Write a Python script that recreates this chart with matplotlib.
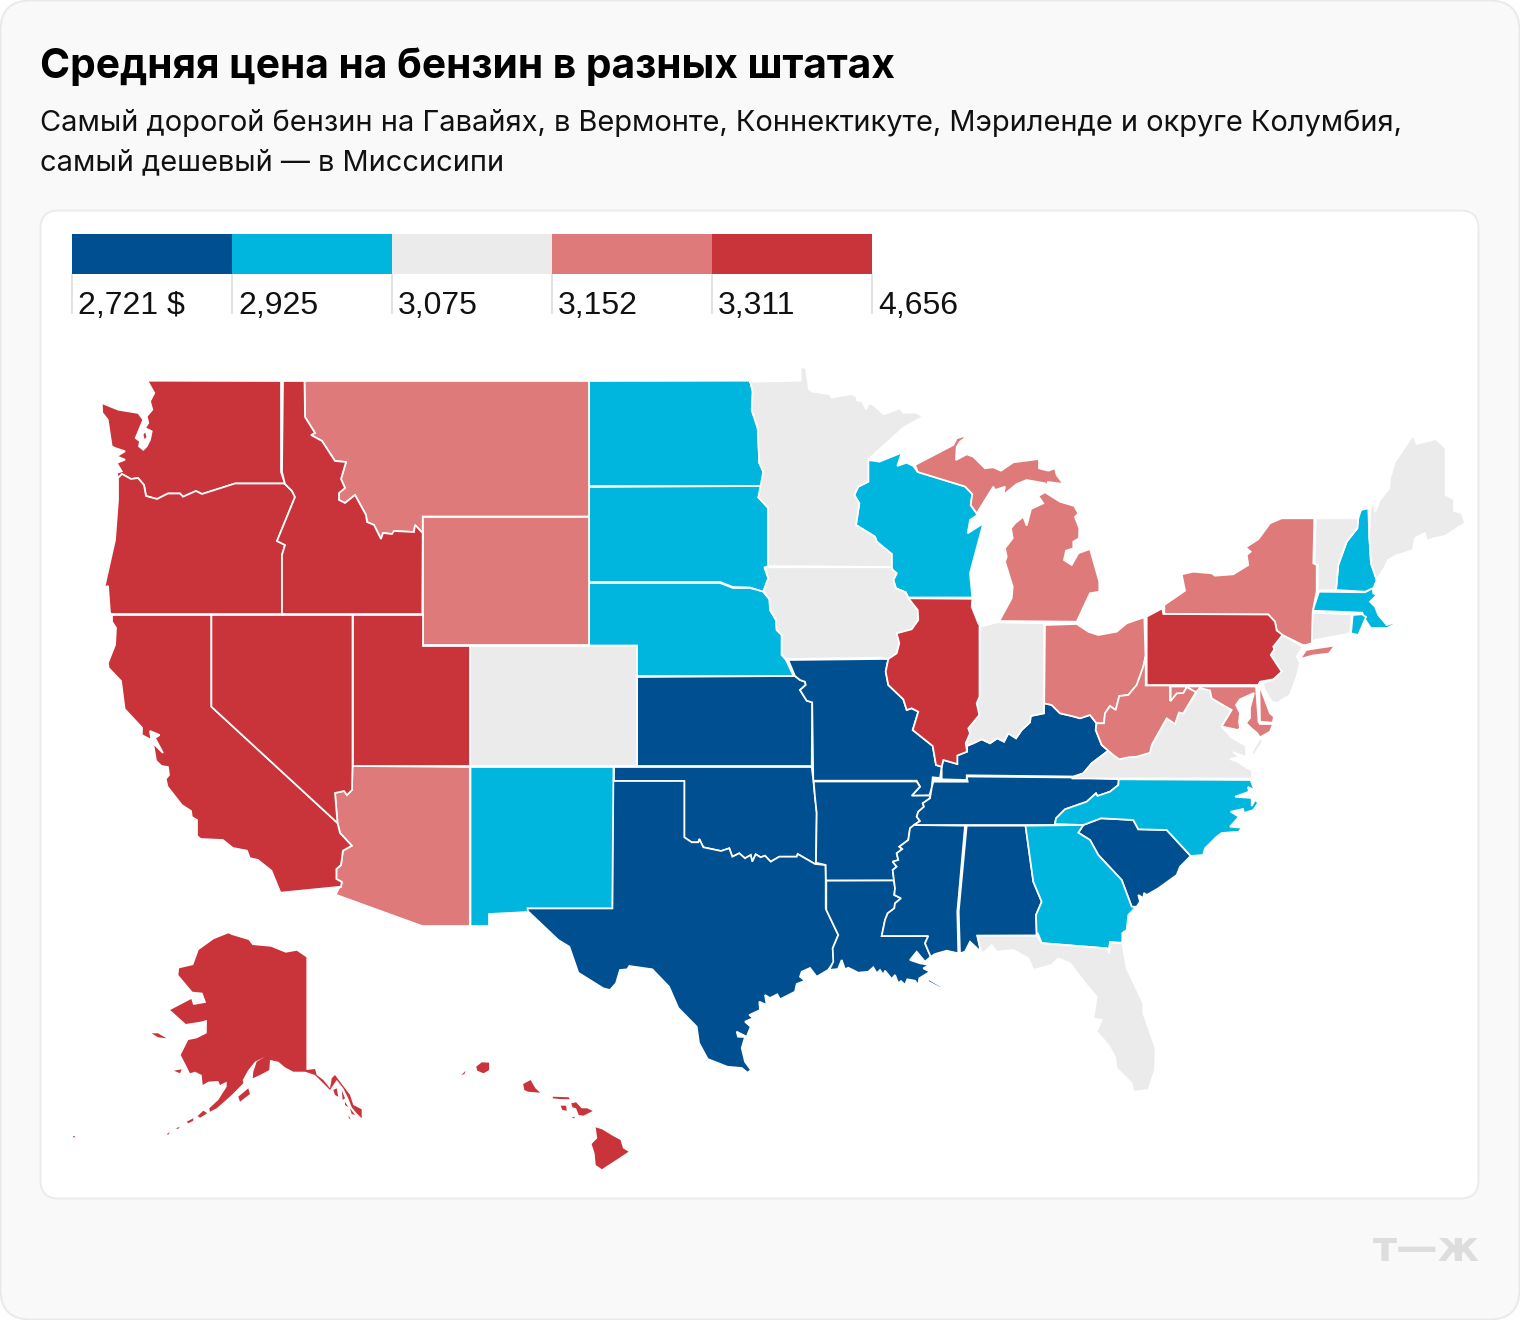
import matplotlib
matplotlib.use("Agg")
import matplotlib.pyplot as plt
from matplotlib.patches import Polygon, Rectangle, FancyBboxPatch

plt.rcParams['font.family'] = ['Inter', 'Noto Sans', 'DejaVu Sans']

TITLE = "Средняя цена на бензин в разных штатах"
SUBTITLE = ["Самый дорогой бензин на Гавайях, в Вермонте, Коннектикуте, Мэриленде и округе Колумбия,",
            "самый дешевый — в Миссисипи"]
LOGO = "т—ж"

# legend: six break labels, five colour classes
BREAK_LABELS = ["2,721 $", "2,925", "3,075", "3,152", "3,311", "4,656"]
CLASS_COLORS = ["#004F91", "#00B6DE", "#EBEBEB", "#DE7A7A", "#C9343A"]

# price class (index into CLASS_COLORS) of each state
CLASS_0 = ["KS", "MO", "OK", "TX", "AR", "LA", "MS", "AL", "TN", "KY", "SC"]
CLASS_1 = ["ND", "SD", "NE", "NM", "WI", "GA", "NC", "NH", "MA", "RI"]
CLASS_2 = ["MN", "IA", "CO", "IN", "VA", "FL", "ME", "VT", "CT", "NJ"]
CLASS_3 = ["MT", "WY", "AZ", "MI", "OH", "WV", "NY", "MD", "DE"]
CLASS_4 = ["WA", "OR", "CA", "NV", "ID", "UT", "IL", "PA", "AK", "HI"]
CLASSES = [CLASS_0, CLASS_1, CLASS_2, CLASS_3, CLASS_4]

# ---- shared borders (map geometry, in the map's own projected units) ----
MT_ID = [(304.5,381),(305,417),(315,433),(311,435),(322,441),(335,461),(346,462),(341,479),(345,488),(339,493),
         (339,500),(345,503),(355,495),(366,515),(367,522),(374,525),(381,539),(383,533),(392,534),(394,531),
         (414,532),(415,525),(422.7,533)]
WA_OR = [(285,483.5),(235,483.5),(202,494),(196,491),(183,496.7),(180,493.5),(168,493.5),(157,499),(146,496),
         (144,485),(138,478),(131,479),(122,474),(118,478)]
OR_ID = [(285,484),(292,491),(295,497),(277,541),(285,545),(282,555),(282,614)]
CA_AZ = [(337.5,823),(340,833),(351.8,845.7),(342.9,850.7),(341,865),(336.4,869),(336.4,879),(341.8,882),(341,886.7)]
NV_AZ = [(352.5,766),(352,790),(347,795),(344,791),(335,793),(337.5,823)]
TX_OK = [(684.3,781),(684.3,837.3),(691.7,842.3),(698.3,842.3),(699.3,839),(703.3,847.3),(721,851),(729.3,848.3),
         (732.3,856.7),(739.3,853.3),(745,858.3),(750.7,855),(752.3,861.7),(755.7,854.3),(760.7,857.3),(765,855.7),
         (770.7,861.7),(779.3,856.7),(796.7,856.7),(797.7,854),(815,864)]
TX_AR = [(815,864),(825.5,865),(825.7,880)]
TX_LA = [(825.7,880),(825.7,908.3),(838.3,935),(832.7,948.3),(834,961.7),(828,970)]
OK_AR = [(813.3,780.5),(815,797),(816.7,813),(816,862.7),(815,864)]
KS_MO = [(795,676),(800,680),(805,681.7),(805.7,685),(800,690),(806.7,700.7),(812.2,702.3)]
NE_IA = [(763.3,591.7),(769.5,599.3),(770,610),(776,620),(776.7,630),(781.7,635),(781.7,655),(786.7,659)]
SD_MN_IA = [(765,486),(758.3,497.3),(768,507.7),(768,566),(764.5,568),(768.3,578.3),(763.3,591.7)]
ND_MN = [(750,380.7),(752.7,391.7),(751.7,410),(757.7,428),(759.3,463),(763.3,471.7),(765,486)]
MN_WI = [(868.3,459.5),(868.3,481.7),(858.3,486.7),(854.3,495),(859.3,503.3),(856,525),(875,536.7),(876.7,541.7),
         (891.7,554),(891.7,567)]
IA_WI = [(891.7,567),(892.7,570),(896.7,573.3),(893.3,580),(896,588.3),(905.7,592.3),(908.3,598)]
IA_IL = [(908.3,598),(917.7,610),(918.3,620),(911.7,629.3),(896.7,633.3),(899.3,643.3),(896.7,653.3),(888.3,659)]
IL_MO = [(888.3,659),(885.7,671.7),(888.3,685),(903.3,699.3),(906.7,710),(911.7,708.3),(918.3,711.7),(912.7,730),
         (932.7,746),(936,765),(941.7,766.7)]
IL_KY = [(941.7,766.7),(943.3,760),(957.3,764),(957.3,755.5),(967,751.7)]
IL_IN = [(967,751.7),(965.7,743.3),(970,733.3),(968.3,728.3),(979.3,715),(976.7,703.3),(979.5,696.7),(979.5,640),(979.5,625)]
IN_KY = [(967,751.7),(966.7,746),(973.3,743.3),(981.7,739.3),(990,743.3),(997.3,738.3),(1004,741.7),(1008.3,733.3),
         (1016,738.3),(1021.7,730),(1030,722.3),(1030.7,716),(1044,713.3),(1044.2,703.3)]
OH_KY = [(1044.2,703.3),(1051.7,705),(1060,713.3),(1071.7,716),(1080,718.3),(1090,715),(1096.5,723.3)]
OH_WV = [(1096.5,723.3),(1104,723.3),(1105,713.3),(1110,706),(1115.7,710),(1119.3,696),(1128.3,695),(1136.7,685),
         (1143.3,666.7),(1145.5,656.7)]
KY_WV = [(1096.5,723.3),(1095.7,730),(1101.7,745),(1108.3,750.7)]
KY_VA = [(1073.3,777),(1083.3,773.3),(1091.7,763.3),(1108.3,750.7)]
WV_VA = [(1108.3,750.7),(1113.3,755),(1119.3,759.3),(1128.3,757.3),(1136.7,756.7),(1150,752.7),(1151.7,745),
         (1166.7,718.3),(1175,724),(1179,712.5),(1183.3,713.3),(1196,693.3)]
MD_VA = [(1196,692),(1200,688),(1210,690.5),(1211.7,698.3),(1220,703.3),(1231.7,710),(1221.7,726.5)]
MO_AR_E = [(916.7,780.7),(920,786.7),(911.7,795.7),(929.3,795.5)]
TN_AR = [(931.7,788),(930,798.3),(922.7,803.3),(924,806.7),(918.3,811.7),(916.7,816.7),(920,821),(914,825)]
MS_AR = [(914,825),(910,828.3),(908.3,840),(899.3,846.7),(902.3,849),(896.7,853.3),(898.3,860),(892.7,861.7),
         (896.7,866.7),(892.7,870),(894,880.5)]
MS_LA = [(894,880.5),(895,888.3),(894.3,895),(901,898.3),(895,903.3),(894.3,908.3),(887.7,913.3),(885,920),(883.3,928.3),
         (881.7,936),(928.3,936),(925,943.3),(930.7,956.7)]
TN_NC = [(1055,824),(1056,818.3),(1065,809.3),(1086.7,801.7),(1096,793.3),(1097.5,796),(1110,791.7),(1118.3,785),(1118.8,779.3)]
GA_AL = [(1025.5,825.7),(1033.3,881.7),(1041.7,901.7),(1036,915),(1036.7,935.5)]
GA_SC = [(1083.3,825),(1078.3,832.7),(1090,840),(1098.3,855),(1121.7,880),(1131.7,906.7)]
NC_SC = [(1083.3,825),(1101,818.3),(1133.3,820),(1138.3,829.3),(1166.7,830),(1190.7,856)]
WI_MI = [(917.7,472),(965,486.5),(972.3,494),(970.7,505),(976.7,513.5)]
NY_PA = [(1164.3,614),(1268.3,614.5),(1275,621.7),(1276.7,630.5),(1282.5,635)]
NY_VT = [(1314.3,518.3),(1313.3,563.3),(1316.7,565),(1316.7,591)]
NY_MA_CT = [(1316.7,591),(1312.7,611.5),(1311.7,643.3)]
VT_NH = [(1358.3,518.3),(1357.3,528.3),(1346.7,541.7),(1338.3,565),(1336,590)]
NH_ME = [(1368.3,508.3),(1369.3,536.7),(1371,563.3),(1376.7,580)]
PA_NJ = [(1282.5,635),(1273.3,646.7),(1274.3,649.3),(1270.7,655),(1281.7,671.7),(1273.3,679.3)]

# ---- state outlines ----
SHAPES = {
"WA": [[(147.3,380.7),(281,381),(281,472),*WA_OR,(116.7,473),(121.7,471.3),(116.7,463),(125,459.7),(116.7,456.3),(125,451.3),
        (115,448),(111.7,446.3),(107.7,419.7),(102.3,413),(101.7,403),(118.3,409.7),(138.3,413),(143.3,419.7),(135.7,438),(140,441.3),
        (139,446.3),(143.3,449.7),(146.7,446.3),(150,439.7),(151.7,431.3),(145,428),(148.3,423),(146.7,416.3),(152.3,409.7),
        (150,401.3),(154.3,393)],
       [(142.5,434.5),(145.5,430.5),(147.5,437.5),(144,440.5)]],
"OR": [[(118,480),*WA_OR[::-1],*OR_ID,(111.5,614),(110,613),(108,586),(104.3,587.7),(115,540),(118,500)]],
"ID": [[(283,381),*MT_ID,(422.3,614),*OR_ID[::-1],(282,472)]],
"MT": [[(304.5,381),(589,381),(589,516.5),(422.7,516.5),*MT_ID[::-1]]],
"WY": [[(423,517),(589,517),(589,645),(423,645)]],
"ND": [[(589,381),*ND_MN,(589,486)]],
"SD": [[(589,487),*SD_MN_IA,(750,587.5),(733,587),(720,582),(589,582)]],
"NE": [[(589,583),(720,583),(733,588),(750,588),*NE_IA[:-1],(786,660),(793.5,676),(637,676),(637,645.5),(589,645.5)]],
"CA": [[(112,615),(211.4,615),(211.4,706.7),*CA_AZ,(280.4,892.7),(271.4,870.7),(257.9,860),(249.6,858),(247,850.7),
        (232.9,848),(222.9,840),(200.7,839),(197,836),(197,820),(191.8,817),(191,811),(181.8,805),(167.5,786.7),
        (165.7,779),(169,775),(167.9,767),(161.4,766),(156,760.7),(153,743),(163,753),(155,738),(159.6,735),(150,731),
        (151.4,740),(141.8,735),(142,727.7),(124.6,709),(121,681),(108.6,668),(107.9,663),(115,645),(116,628),(112,621.7)],
       [(206,853),(210,853),(209,854.5)]],
"NV": [[(211.4,615),(352.5,615),*NV_AZ,(211.4,706.7)]],
"UT": [[(352.5,615),(422.5,615),(422.5,646),(469.8,646),(469.8,766),(352.5,766)]],
"AZ": [[(469.8,767),(469.8,926),(422,926),(335.7,894.7),(339,888),*CA_AZ[::-1],*NV_AZ[::-1]]],
"CO": [[(470,646),(636.8,646),(636.8,766),(470,766)]],
"NM": [[(470.5,767),(613.5,767),(612.3,908.3),(527.5,908.3),(528,912),(489,914),(489,926),(470.5,926)]],
"KS": [[(637,677),*KS_MO,(811.7,766),(637,766)]],
"OK": [[(614,767),(811.7,767),*OK_AR,*TX_OK[::-1],(614,781)]],
"TX": [[(612.7,781),*TX_OK,*TX_AR[1:],*TX_LA[1:],(816.7,976.7),(810,968),(801.7,971.7),(800,976.7),(805,980.7),(796.7,984),
        (795,991.7),(780,999.3),(777.3,994.3),(770,998),(765,995),(766.7,1005),(759.3,1001.7),(760,1010),(749.3,1015),
        (753.3,1018),(745,1021.7),(750.7,1026.7),(746.7,1036.7),(736.7,1031.7),(738,1036.7),(745,1037),(741.7,1048),
        (745,1061.7),(751,1070),(747.7,1072.7),(741.7,1068),(727.3,1066.7),(707.7,1059),(699,1043),(696.7,1026.7),
        (678.3,1008),(669,986.7),(652.3,969.3),(629.3,966),(627.3,969.3),(620,970),(616,983.3),(610,990),(603.3,988.3),
        (578.3,972.7),(569.3,946.7),(558.3,940),(526.7,910),(527.3,908.3),(612.3,908.3)]],
"MO": [[(788.3,660),(880,659),(888.3,659),*IL_MO[1:],(940,778),(932.7,777.3),(931.7,788),(929.3,795.5),(911.7,795.7),
        (920,786.7),(916.7,780.7),(813.3,780.7),(812.2,702.3),*KS_MO[::-1][1:]]],
"AR": [[(813.7,781.5),(916.7,781.5),*MO_AR_E[1:],*TN_AR[1:],*MS_AR[1:],(826,880.5),(825.7,865),(816,862.7),(816.7,813),(815,797)]],
"LA": [[(826.3,880.7),*MS_LA,(925,961.7),(916.7,951.7),(910,960),(920,963.3),(929.3,965),(923.3,968.3),(930,971.7),(919.3,978.3),
        (918.3,985),(915,980.7),(907.3,979.3),(905,985),(901,981),(898.3,983.3),(895,975),(891.7,979),(885,970.7),(883.3,975),
        (880,970),(876.7,973.3),(873.3,967.3),(868.3,971.7),(858.3,972.7),(848.3,967.7),(845,969.3),(841.7,960),(838,969),
        (829.3,970),(833.3,961.7),(832.7,948.3),(838.3,935),(826.3,910)],
       [(927.3,978.3),(941.7,986.7),(940.7,988.3),(928.3,981.7)]],
"MS": [[(914,825),(965,825.7),(957.3,911.7),(958.3,953.3),(946.7,950.7),(935,954),*MS_LA[::-1],*MS_AR[::-1][1:]]],
"AL": [[(966.7,825.7),*GA_AL,(977.3,935.7),(980.7,951.7),(970,941.7),(965,951.7),(960,953.3),(958.7,911.7)]],
"GA": [[*GA_AL,(1037.7,933),(1041.7,943),(1106.7,948.3),(1108.3,953),(1110,942),(1122.3,942.7),(1122.3,933),(1126.7,930),
        (1128.3,915),(1135.7,907.3),*GA_SC[::-1]]],
"SC": [[*GA_SC,(1136.7,906.7),(1140,901.7),(1138.3,895),(1143.3,898),(1144,893),(1146.7,895),(1158.3,888.3),(1176.7,875),
        (1180,866.7),*NC_SC[::-1]]],
"NC": [[*TN_NC,(1250.7,780),(1254.3,790),(1248,787),(1249,791.7),(1235,796.7),(1251.7,798),(1251.7,806),(1255,800),
        (1258.3,802.7),(1253.3,810),(1244,813),(1243,809),(1230.7,811.7),(1239,816.7),(1230,826.7),(1241.7,827.7),
        (1239,831.7),(1221.7,833),(1216.7,836.7),(1205,848.3),(1203,855),*NC_SC[::-1]]],
"TN": [[(914,825),*TN_AR[::-1][1:],(933.3,781.7),(967.7,781.7),(966.7,776.5),(1073,777.5),(1118.8,779.3),*TN_NC[::-1][1:],(1055,825)]],
"KY": [[(941.7,779.3),(966.7,780),(966.7,775.3),(1073.3,776.5),*KY_VA[1:],*KY_WV[::-1][1:],*OH_KY[::-1][1:],*IN_KY[::-1][1:],*IL_KY[::-1][1:],(941.7,779.3)]],
"IL": [[(908.3,598.3),(972.3,598.8),(971.7,606.7),(978.3,623.3),*IL_IN[::-1],*IL_KY[::-1][1:],*IL_MO[::-1][1:],*IA_IL[::-1][1:]]],
"IN": [[(980.7,626.7),(996.7,622.3),(1044.2,623.3),*IN_KY[::-1],*IL_IN[:-1]]],
"OH": [[(1045,625),(1076.7,624),(1088.3,631.7),(1098.3,635),(1116.7,631.7),(1126.7,623.3),(1144.3,617.3),(1145.5,656.7),
        *OH_WV[::-1][1:],*OH_KY[::-1]]],
"WV": [[(1145.7,660),(1145.7,685.5),(1170,685.5),(1170,701),(1176.7,693.3),(1183.3,692.7),(1186.7,687),(1196,692),*WV_VA[::-1][1:],
        *KY_WV[::-1][1:],*OH_WV[1:]]],
"VA": [[(1071.7,778.5),*KY_VA,*WV_VA[1:],*MD_VA,(1231,737),(1246,746),(1246,757),(1233,752),(1240,757),(1230,759),(1238,762),
        (1247,768),(1252,770),(1252,778.5)],
       [(1253,757),(1264,739.5),(1259,739.5),(1252,752)]],
"MD": [[(1170.7,686.5),(1256,686.5),(1258.5,721.7),(1260,724),(1273,724),(1270,731.7),(1260,737.3),(1257,733),(1251,728),
        (1246,723),(1250,718),(1250,708),(1254,693),(1240,699.3),(1236,705),(1240,713),(1239,722),(1240,728),(1238,730),
        (1221.7,726.5),*MD_VA[::-1][1:],(1186.7,687),(1183.3,693),(1176.7,693.3),(1170.7,701)]],
"DE": [[(1259.3,686),(1261.7,684),(1260.5,688),(1265,700),(1270,713.3),(1274,716.7),(1272.7,722.7),(1260,721.7)]],
"PA": [[(1146.7,616.7),(1162.3,608.3),(1163.3,614),*NY_PA[1:],*PA_NJ[1:],(1260,681.7),(1258.3,685),(1146.7,685)]],
"NJ": [[*PA_NJ,(1263,683),(1264,688.3),(1266.7,693.3),(1271.7,701.7),(1278,703),(1281.7,700),(1290,695),(1296.7,676.7),
        (1300,663),(1296.7,656.7),(1303,646.7)]],
"NY": [[(1164.3,614),(1164.3,605),(1185,590.7),(1181.7,574.3),(1193.3,571.7),(1211.7,573.3),(1215,575.7),(1233.3,574.3),
        (1248.3,565),(1246.7,555),(1250.7,551.7),(1245.7,547.3),(1258.3,539.3),(1270,523.3),(1281.7,518.3),*NY_VT,*NY_MA_CT[1:],
        (1305.7,645),(1302.7,645),*NY_PA[::-1][:-1]],
       [(1300,659),(1306,650),(1315,648.5),(1335,645.5),(1329,653.5),(1313,655.5)]],
"VT": [[(1315.7,518.3),*VT_NH,(1317.7,590.7),(1317.7,565),(1314.5,563.3)]],
"NH": [[(1361,510),(1368.3,508.3),*NH_ME[1:],(1373.3,588.3),(1365,591.7),*VT_NH[::-1],(1358.3,518.3)]],
"ME": [[(1370,510),(1374,500),(1375,512),(1380,500),(1389.3,488.3),(1390,478.3),(1395,461.7),(1413.3,435),(1416.7,444),(1436,439),
        (1445.7,448.3),(1445.7,495),(1454,499.3),(1454,510.7),(1461.7,513.3),(1465,523.3),(1456.7,528.3),(1445,536),(1435,538),
        (1426.7,540.7),(1425,533),(1415,538),(1413,550),(1403.3,553.3),(1396.7,555),(1388,560),(1385,566.7),(1376.7,580),
        (1371,563.3),(1369.3,536.7)]],
"MA": [[(1319,591.7),(1365,592.3),(1372.7,588.3),(1373.3,593.3),(1376.7,595),(1370,601.7),(1375,606.7),(1378.3,615),(1386.7,625),
        (1395,622.3),(1395,624),(1387,628),(1379,628),(1370.7,628),(1363.3,616.7),(1362.3,612.7),(1312.7,610.7)]],
"RI": [[(1352.7,615),(1362,614.3),(1366,617),(1358.3,635),(1351,633.3)]],
"CT": [[(1312.7,612.7),(1352,614.3),(1350,633.3),(1341.7,635),(1315,640),(1306.7,643.3),(1311,640)]],
"IA": [[(765,567.3),(891.7,567.3),*IA_WI[1:],*IA_IL[1:],(880,657.7),*NE_IA[::-1],(768.3,578.3)]],
"MN": [[(750,381.7),(800.7,380.7),(800.7,366.7),(806,368.3),(809,389.3),(812.7,391.7),(830,394.3),(831.7,397.7),(851,394),(856.7,396.7),
        (856.7,400),(862.3,401.7),(866,409.3),(869,403.3),(873.3,405),(884,414.3),(900,408.3),(903.3,412.7),(916.7,412.7),(923,416.7),
        (903.3,427.7),*MN_WI,(768,566),(768,507.7),(758.3,497.3),*ND_MN[::-1][1:]]],
"WI": [[(868.3,460),(879.3,461.7),(901.7,452.7),(897.3,466),(906.7,462.7),(913.3,466),*WI_MI,(977.3,515),(970,520),(967.7,533.3),
        (983.3,523.3),(971.7,566.7),(970,573.3),(972.3,597.5),(908.3,597.5),*IA_WI[::-1][1:],*MN_WI[::-1][1:]],
       [(986,516),(989.5,512),(985,522)]],
"MI": [[*WI_MI,(993.3,486.7),(995,490),(1005,486.7),(1003.3,495),(1016.7,484),(1026.7,480),(1045,483.3),(1046,486.7),(1048,482),
        (1063.3,484),(1056.7,475),(1055,468.3),(1048.3,470.7),(1039,468.3),(1039,459),(1013.3,462.3),(1001,470.7),(993.3,467.3),
        (985,468.3),(973.3,456.7),(966.7,454.3),(956,460),(956.7,447),(960,441.7),(970,434.3),(956.7,438.3),(953.3,445),(915,465)],
       [(1045,492.3),(1060,501.7),(1074.3,506),(1078.3,513.3),(1075,517),(1079.3,528.3),(1079,538.3),(1073.3,541.7),(1073.3,548.3),
        (1066,550.7),(1064,560),(1071.7,565),(1078.3,553.3),(1090,549),(1099.3,581.7),(1099.3,591.7),(1090,593.3),(1076.7,621.7),
        (999.3,621),(1011.7,598.3),(1012.7,586.7),(1005,561.7),(1006.7,556.7),(1005,548.3),(1012.7,538.3),(1011,528.3),(1015,523.3),
        (1023.3,516.7),(1026.7,525.7),(1031,509),(1043.3,503.3),(1038.3,496)],
       [(964,437),(970,433),(966,438)],[(1064,476),(1068,478),(1065,479)]],
"FL": [[(977.3,935.7),(1036.7,935.7),(1041.7,943.3),(1106.7,948.3),(1109.3,953.3),(1110,942.7),(1122.3,943.3),(1126.7,968.3),
        (1143.3,1003.3),(1143.3,1013.3),(1155.7,1048.3),(1155,1070),(1148.3,1090),(1133.3,1091.7),(1131.7,1083.3),(1116.7,1068.3),
        (1115,1056.7),(1108.3,1045),(1096.7,1031.7),(1101.7,1020),(1093.3,1018.3),(1096.7,996.7),(1086.7,985),(1070,963.3),
        (1058.3,958.3),(1051.7,965),(1033.3,970),(1028.3,958.3),(1013.3,950),(996.7,951.7),(991.7,945),(985,951.7),(981.7,953.3)]],
"AK": [[(228.3,933.3),(232,935),(248.7,940),(252.4,945),(270.9,946.7),(285.7,952.7),(296.8,950.7),(306.4,957.3),(306.4,1070),(315,1069),
        (316.7,1075),(323.3,1080),(330,1088.3),(331.7,1078.3),(335,1075),(340,1081.7),(350,1095),(353.3,1105),(361.7,1109.3),(361.7,1118.3),
        (356.7,1113.3),(351.7,1107.3),(348.3,1098.3),(343.3,1088.3),(336.7,1080),(330,1090),(323.3,1083.3),(315,1075),(305,1071.7),
        (293.3,1071.7),(285,1067.3),(278.3,1061.7),(270,1060),(269.3,1070),(260,1075),(252.7,1078.3),(253.3,1071.7),(256.7,1061.7),
        (265,1056.7),(255,1061.7),(248.3,1070),(242.7,1080),(243.3,1083.3),(231.7,1095),(216.7,1108.3),(210,1111.7),(209.3,1108.3),
        (218.3,1100),(226.7,1086.7),(226.7,1081.7),(220,1085),(218.3,1081),(208.3,1081.7),(202.7,1085),(201.7,1075),(195,1071.7),(190,1073.3),
        (185,1063.3),(180.7,1055),(188.3,1040),(196.7,1038.3),(206.7,1033.3),(206.9,1020),(200.6,1021.7),
        (185.8,1024),(170.2,1010),(191.3,999),(193.2,1005),(206.1,1002.7),(202.4,992.7),(192.4,991.7),(178.4,975),(179.1,968.3),(193.2,965),
        (198.7,950),(213.5,939.3)],
       [(238.3,1096.7),(248.3,1088.3),(250,1094),(240,1101.7)],
       [(151.7,1033.3),(158,1033.3),(166.5,1038.3),(158,1037.3)],
       [(174,1070.7),(181.7,1069.3),(180,1073.3)],
       [(197.7,1116),(203.3,1110.7),(207.3,1113.3),(200,1117.7)],
       [(186.7,1121.7),(193.3,1118.3),(193.3,1120.7),(188.3,1123.3)],
       [(176,1128.3),(180,1126.7),(178,1129)],[(167,1134),(170,1132),(168,1135)],
       [(73,1136),(75,1136),(74,1138)],
       [(333.3,1090),(336.7,1088.3),(338.3,1096.7),(335,1095)],
       [(341.7,1090),(345,1098.3),(342.7,1100)],
       [(345,1101.7),(348.3,1107.3),(345,1105)],
       [(350,1108.3),(355,1115),(351.7,1114)],
       [(348.3,1115),(350.7,1119.3),(349,1118.3)]],
"HI": [[(476.2,1066.7),(481.8,1062.3),(489.1,1062.7),(489.1,1070),(483.6,1073.3),(477.3,1070.7)],
       [(461.4,1075),(465.8,1070.7),(464.4,1074)],
       [(523.2,1084),(530.6,1080),(535.4,1088.3),(540.2,1092.7),(528,1091.7),(524.3,1090)],
       [(552.8,1096.7),(568.7,1097.3),(569.8,1099.3),(559.5,1099),(552.8,1098.3)],
       [(560.6,1105.7),(566.1,1105.7),(566.8,1110.7),(562.4,1110)],
       [(571.3,1103.3),(576.1,1102.3),(581.6,1108.3),(587.2,1108.3),(592.7,1111),(583.5,1115.7),(578.7,1115),(576.1,1108.3),(572.4,1107.3)],
       [(571.7,1117.7),(575,1116.7),(574.2,1118.3)],
       [(595.7,1127.3),(602,1129.3),(613.1,1136),(620.5,1140),(623,1148.3),(628.6,1151.7),(618.7,1158.3),(605.7,1166.7),(602,1169.3),
        (595.7,1165),(594.6,1153.3),(591.6,1144),(597.2,1138.3)]],
}
NO_STROKE = ["AK", "HI"]

fig = plt.figure(figsize=(15.2, 13.2), dpi=100, facecolor="white")
ax = fig.add_axes([0, 0, 1, 1])
ax.set_xlim(0, 1520)
ax.set_ylim(1320, 0)
ax.axis("off")

ax.add_patch(FancyBboxPatch((30.5, 30.5), 1459, 1259, boxstyle="round,pad=30,rounding_size=30",
                            fc="#F9F9F9", ec="#E9E9E9", lw=1.4, zorder=0))
ax.add_patch(FancyBboxPatch((58.5, 228.5), 1402, 952, boxstyle="round,pad=18,rounding_size=18",
                            fc="white", ec="#EBEBEB", lw=1.4, zorder=1))

ax.text(40, 78, TITLE, fontsize=29.35, fontweight="bold", color="#000000", va="baseline", ha="left", zorder=5)
ax.text(40, 131, SUBTITLE[0], fontsize=20.9, color="#111111", va="baseline", ha="left", zorder=5)
ax.text(40, 170.5, SUBTITLE[1], fontsize=20.9, color="#111111", va="baseline", ha="left", zorder=5)

# legend
LEG_X0, LEG_W = 72, 160
for i, label in enumerate(BREAK_LABELS):
    x = LEG_X0 + i * LEG_W
    ax.plot([x, x], [274, 314], color="#E2E2E2", lw=1.4, solid_capstyle="butt", zorder=3)
    ax.text(x + 6, 314, label, fontsize=23, family="Liberation Sans", color="#111111", va="baseline", ha="left", zorder=5)
for i, c in enumerate(CLASS_COLORS):
    ax.add_patch(Rectangle((LEG_X0 + i * LEG_W, 234), LEG_W, 40, fc=c, ec="none", zorder=4))

# map
for cls, members in enumerate(CLASSES):
    for st in members:
        stroke = st not in NO_STROKE
        for part in SHAPES[st]:
            ax.add_patch(Polygon(part, closed=True, fc=CLASS_COLORS[cls],
                                 ec="white" if stroke else "none",
                                 lw=1.25 if stroke else 0, joinstyle="miter", zorder=3))

ax.text(1480, 1261, LOGO, fontsize=30, fontweight="bold", family="DejaVu Sans", color="#DDDDDD",
        va="baseline", ha="right", zorder=5)

fig.savefig("out.png", dpi=100, facecolor="white")
